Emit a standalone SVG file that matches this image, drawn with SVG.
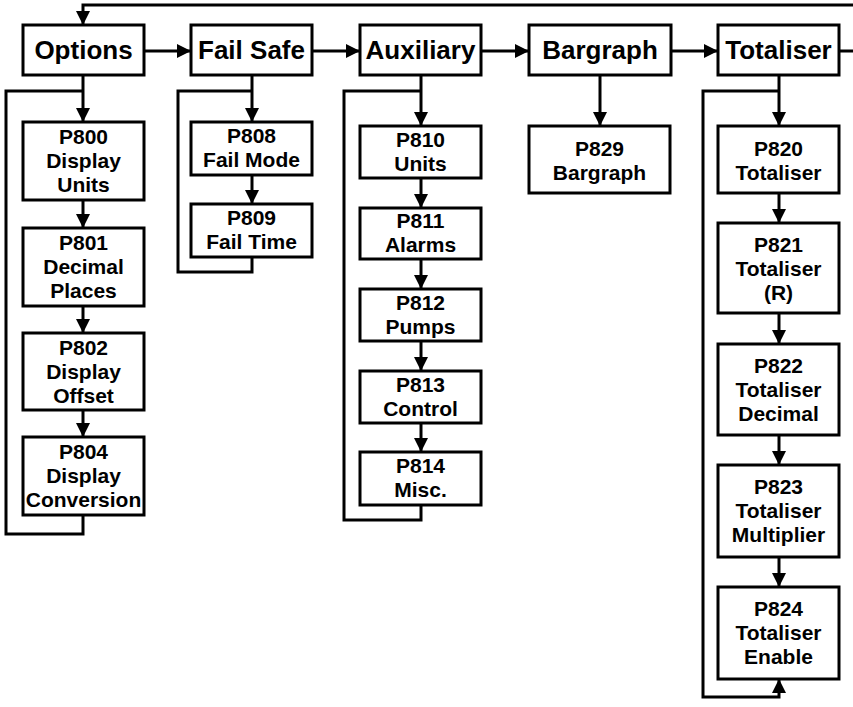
<svg xmlns="http://www.w3.org/2000/svg" width="853" height="707" viewBox="0 0 853 707">
  <style>
    .box { fill: #fff; stroke: #000; stroke-width: 3; }
    .head { font-family: "Liberation Sans", Arial, sans-serif; font-weight: bold; font-size: 26px; text-anchor: middle; fill: #000; }
    .lbl { font-family: "Liberation Sans", Arial, sans-serif; font-weight: bold; font-size: 21px; text-anchor: middle; fill: #000; }
    .wire { fill: none; stroke: #000; stroke-width: 3; }
    .arr { marker-end: url(#ah); }
  </style>
  <defs>
    <marker id="ah" viewBox="0 0 14 14" refX="13" refY="7" markerWidth="14" markerHeight="14" markerUnits="userSpaceOnUse" orient="auto">
      <path d="M0,0 L14,7 L0,14 Z" fill="#000"/>
    </marker>
  </defs>

  <!-- connectors -->
  <g id="connectors">
    <!-- wrap-around from the last menu back to Options -->
    <path class="wire arr" d="M840,51 H858 V5 H83 V24"/>
    <!-- top-level menu chain -->
    <path class="wire arr" d="M144,51 H190"/>
    <path class="wire arr" d="M312,51 H359"/>
    <path class="wire arr" d="M481,51 H528"/>
    <path class="wire arr" d="M671,51 H717"/>

    <!-- Options column -->
    <path class="wire arr" d="M83,75 V121"/>
    <path class="wire" d="M83,91 H6 V534 H83 V515"/>
    <path class="wire arr" d="M83,200 V227"/>
    <path class="wire arr" d="M83,306 V332"/>
    <path class="wire arr" d="M83,410 V436"/>

    <!-- Fail Safe column -->
    <path class="wire arr" d="M252,75 V121"/>
    <path class="wire" d="M252,91 H178 V272 H252 V257"/>
    <path class="wire arr" d="M252,175 V203"/>

    <!-- Auxiliary column -->
    <path class="wire arr" d="M421,75 V125"/>
    <path class="wire" d="M421,91 H344 V520 H421 V505"/>
    <path class="wire arr" d="M421,178 V207"/>
    <path class="wire arr" d="M421,259 V288"/>
    <path class="wire arr" d="M421,341 V370"/>
    <path class="wire arr" d="M421,423 V451"/>

    <!-- Bargraph column -->
    <path class="wire arr" d="M600,75 V125"/>

    <!-- Totaliser column -->
    <path class="wire arr" d="M779,75 V125"/>
    <path class="wire arr" d="M779,91 H703 V697 H779 V680"/>
    <path class="wire arr" d="M779,193 V222"/>
    <path class="wire arr" d="M779,313 V343"/>
    <path class="wire arr" d="M779,435 V464"/>
    <path class="wire arr" d="M779,557 V586"/>
  </g>

  <!-- top-level menus -->
  <g id="options">
    <rect class="box" x="23" y="25" width="121" height="50"/>
    <text class="head" x="83.5" y="59">Options</text>
  </g>
  <g id="fail-safe">
    <rect class="box" x="191" y="25" width="121" height="50"/>
    <text class="head" x="251.5" y="59">Fail Safe</text>
  </g>
  <g id="auxiliary">
    <rect class="box" x="360" y="25" width="121" height="50"/>
    <text class="head" x="420.5" y="59">Auxiliary</text>
  </g>
  <g id="bargraph">
    <rect class="box" x="529" y="25" width="142" height="50"/>
    <text class="head" x="600" y="59">Bargraph</text>
  </g>
  <g id="totaliser">
    <rect class="box" x="718" y="25" width="121" height="50"/>
    <text class="head" x="778.5" y="59">Totaliser</text>
  </g>

  <!-- Options parameters -->
  <g id="p800">
    <rect class="box" x="23" y="122" width="121" height="78"/>
    <text class="lbl" x="83.5" y="144">P800</text>
    <text class="lbl" x="83.5" y="168">Display</text>
    <text class="lbl" x="83.5" y="192">Units</text>
  </g>
  <g id="p801">
    <rect class="box" x="23" y="228" width="121" height="78"/>
    <text class="lbl" x="83.5" y="250">P801</text>
    <text class="lbl" x="83.5" y="274">Decimal</text>
    <text class="lbl" x="83.5" y="298">Places</text>
  </g>
  <g id="p802">
    <rect class="box" x="23" y="333" width="121" height="77"/>
    <text class="lbl" x="83.5" y="355">P802</text>
    <text class="lbl" x="83.5" y="379">Display</text>
    <text class="lbl" x="83.5" y="403">Offset</text>
  </g>
  <g id="p804">
    <rect class="box" x="23" y="437" width="121" height="78"/>
    <text class="lbl" x="83.5" y="459">P804</text>
    <text class="lbl" x="83.5" y="483">Display</text>
    <text class="lbl" x="83.5" y="507">Conversion</text>
  </g>

  <!-- Fail Safe parameters -->
  <g id="p808">
    <rect class="box" x="191" y="122" width="121" height="53"/>
    <text class="lbl" x="251.5" y="143">P808</text>
    <text class="lbl" x="251.5" y="167">Fail Mode</text>
  </g>
  <g id="p809">
    <rect class="box" x="191" y="204" width="121" height="53"/>
    <text class="lbl" x="251.5" y="225">P809</text>
    <text class="lbl" x="251.5" y="249">Fail Time</text>
  </g>

  <!-- Auxiliary parameters -->
  <g id="p810">
    <rect class="box" x="360" y="126" width="121" height="52"/>
    <text class="lbl" x="420.5" y="147">P810</text>
    <text class="lbl" x="420.5" y="171">Units</text>
  </g>
  <g id="p811">
    <rect class="box" x="360" y="208" width="121" height="51"/>
    <text class="lbl" x="420.5" y="228">P811</text>
    <text class="lbl" x="420.5" y="252">Alarms</text>
  </g>
  <g id="p812">
    <rect class="box" x="360" y="289" width="121" height="52"/>
    <text class="lbl" x="420.5" y="310">P812</text>
    <text class="lbl" x="420.5" y="334">Pumps</text>
  </g>
  <g id="p813">
    <rect class="box" x="360" y="371" width="121" height="52"/>
    <text class="lbl" x="420.5" y="392">P813</text>
    <text class="lbl" x="420.5" y="416">Control</text>
  </g>
  <g id="p814">
    <rect class="box" x="360" y="452" width="121" height="53"/>
    <text class="lbl" x="420.5" y="473">P814</text>
    <text class="lbl" x="420.5" y="497">Misc.</text>
  </g>

  <!-- Bargraph parameter -->
  <g id="p829">
    <rect class="box" x="529" y="126" width="141" height="67"/>
    <text class="lbl" x="599.5" y="156">P829</text>
    <text class="lbl" x="599.5" y="180">Bargraph</text>
  </g>

  <!-- Totaliser parameters -->
  <g id="p820">
    <rect class="box" x="718" y="126" width="121" height="67"/>
    <text class="lbl" x="778.5" y="156">P820</text>
    <text class="lbl" x="778.5" y="180">Totaliser</text>
  </g>
  <g id="p821">
    <rect class="box" x="718" y="223" width="121" height="90"/>
    <text class="lbl" x="778.5" y="252">P821</text>
    <text class="lbl" x="778.5" y="276">Totaliser</text>
    <text class="lbl" x="778.5" y="300">(R)</text>
  </g>
  <g id="p822">
    <rect class="box" x="718" y="344" width="121" height="91"/>
    <text class="lbl" x="778.5" y="373">P822</text>
    <text class="lbl" x="778.5" y="397">Totaliser</text>
    <text class="lbl" x="778.5" y="421">Decimal</text>
  </g>
  <g id="p823">
    <rect class="box" x="718" y="465" width="121" height="92"/>
    <text class="lbl" x="778.5" y="494">P823</text>
    <text class="lbl" x="778.5" y="518">Totaliser</text>
    <text class="lbl" x="778.5" y="542">Multiplier</text>
  </g>
  <g id="p824">
    <rect class="box" x="718" y="587" width="121" height="92"/>
    <text class="lbl" x="778.5" y="616">P824</text>
    <text class="lbl" x="778.5" y="640">Totaliser</text>
    <text class="lbl" x="778.5" y="664">Enable</text>
  </g>
</svg>
